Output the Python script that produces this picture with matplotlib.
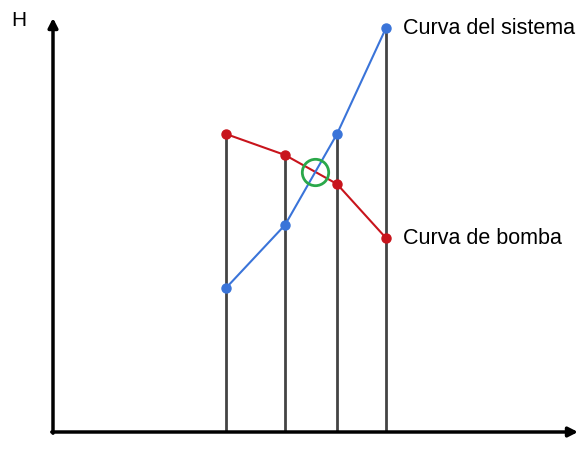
import numpy as np
import matplotlib.pyplot as plt

plt.rcParams["font.family"] = ["Liberation Sans", "DejaVu Sans"]

# Caudal de operación (posiciones de las verticales)
q = [17.3, 23.2, 28.4, 33.3]
# Altura de la bomba y del sistema en cada caudal
h_bomba = [29.8, 27.7, 24.8, 19.4]
h_sistema = [14.4, 20.7, 29.8, 40.4]

RED = "#c8141c"
BLUE = "#3a74d9"
GREEN = "#2aa84a"
GREY = "#444444"

fig = plt.figure(figsize=(5.81, 4.65), dpi=100)
ax = fig.add_axes([53 / 581, 33 / 465, 525 / 581, 414 / 465])
ax.set_xlim(0, 52.5)
ax.set_ylim(0, 41.4)
ax.axis("off")

# verticales hasta la curva más alta
for x, hb, hs in zip(q, h_bomba, h_sistema):
    ax.plot([x, x], [0, max(hb, hs)], color=GREY, lw=2, zorder=1)

ax.plot(q, h_bomba, color=RED, lw=1.5, marker="o", ms=6.5, zorder=3)
ax.plot(q, h_sistema, color=BLUE, lw=1.5, marker="o", ms=6.5, zorder=3)

# punto de operación: cruce entre el segundo y tercer caudal
sb = (h_bomba[2] - h_bomba[1]) / (q[2] - q[1])
ss = (h_sistema[2] - h_sistema[1]) / (q[2] - q[1])
dx = (h_bomba[1] - h_sistema[1]) / (ss - sb)
xo, yo = q[1] + dx, h_bomba[1] + sb * dx
ax.plot(xo, yo, marker="o", ms=19, mfc="none", mec=GREEN, mew=2, zorder=4)

ax.text(q[3] + 1.7, h_sistema[3], "Curva del sistema", fontsize=15.5,
        va="center", ha="left")
ax.text(q[3] + 1.7, h_bomba[3], "Curva de bomba", fontsize=15.5,
        va="center", ha="left")

# ejes con flecha
arrow = dict(arrowstyle="-|>,head_length=0.55,head_width=0.28", color="black",
             lw=2.5, shrinkA=0, shrinkB=0)
ax.annotate("", xy=(0, 41.4), xytext=(0, -0.12), arrowprops=arrow,
            annotation_clip=False)
ax.annotate("", xy=(52.5, 0), xytext=(-0.12, 0), arrowprops=arrow,
            annotation_clip=False)
fig.text(11 / 581, 1 - 21 / 465, "H", fontsize=15, va="center", ha="left")

fig.savefig("out.png", dpi=100)
